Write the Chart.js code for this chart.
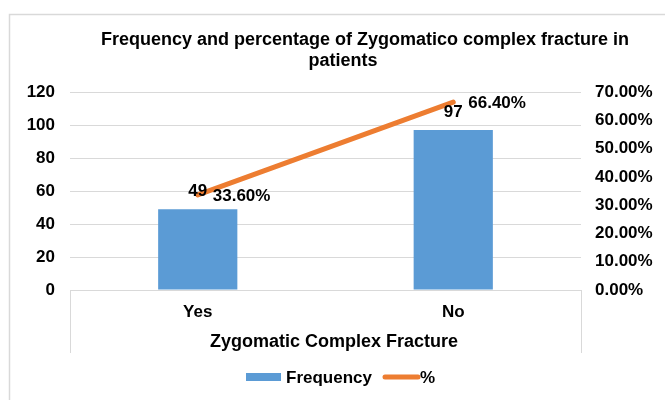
<!DOCTYPE html>
<html>
<head>
<meta charset="utf-8">
<style>
html,body{margin:0;padding:0;background:#fff;overflow:hidden}
#wrap{width:665px;height:400px;position:relative}
</style>
<script src="https://cdn.jsdelivr.net/npm/chart.js@4.4.1/dist/chart.umd.min.js"></script>
</head>
<body>
<div id="wrap"><canvas id="c" width="665" height="400"></canvas></div>
<script>
const categories = ['Yes', 'No'];
const frequency = [49, 97];
const percent = [33.6, 66.4];
const leftAxis = { min: 0, max: 120, step: 20 };
const rightAxis = { min: 0, max: 70, step: 10 };
const titleLines = ['Frequency and percentage of Zygomatico complex fracture in', 'patients'];
const xTitle = 'Zygomatic Complex Fracture';
const seriesNames = ['Frequency', '%'];

const FONT = '"Liberation Sans", Arial, sans-serif';
const BLUE = '#5B9BD5';
const ORANGE = '#ED7D31';
const GRID = '#d9d9d9';

const decor = {
  id: 'decor',
  beforeDraw(chart) {
    const ctx = chart.ctx;
    ctx.save();
    ctx.fillStyle = '#fff';
    ctx.fillRect(0, 0, chart.width, chart.height);
    ctx.strokeStyle = GRID;
    ctx.lineWidth = 1.5;
    ctx.strokeRect(9.5, 14.5, 720, 450);
    ctx.restore();
  },
  afterDatasetsDraw(chart) {
    const ctx = chart.ctx;
    ctx.save();
    ctx.fillStyle = '#000';
    ctx.font = 'bold 17px ' + FONT;
    const barMeta = chart.getDatasetMeta(0);
    ctx.textAlign = 'center';
    ctx.textBaseline = 'middle';
    barMeta.data.forEach((el, i) => {
      ctx.fillText(String(frequency[i]), el.x, el.y - 18);
    });
    const lineMeta = chart.getDatasetMeta(1);
    ctx.textAlign = 'left';
    lineMeta.data.forEach((el, i) => {
      ctx.fillText(percent[i].toFixed(2) + '%', el.x + 15, el.y + 1);
    });
    ctx.restore();
  },
  afterDraw(chart) {
    const ctx = chart.ctx;
    const a = chart.chartArea;
    ctx.save();
    // category box lines
    ctx.strokeStyle = GRID;
    ctx.lineWidth = 1;
    ctx.beginPath();
    ctx.moveTo(Math.round(a.left) + 0.5, a.bottom);
    ctx.lineTo(Math.round(a.left) + 0.5, a.bottom + 63);
    ctx.moveTo(Math.round(a.right) + 0.5, a.bottom);
    ctx.lineTo(Math.round(a.right) + 0.5, a.bottom + 63);
    ctx.stroke();
    // title
    ctx.fillStyle = '#000';
    ctx.textBaseline = 'middle';
    ctx.textAlign = 'center';
    ctx.font = 'bold 18px ' + FONT;
    ctx.fillText(titleLines[0], 365, 40);
    ctx.fillText(titleLines[1], 343, 61);
    // x axis title
    ctx.font = 'bold 18px ' + FONT;
    ctx.fillText(xTitle, 334, 342);
    // legend
    ctx.font = 'bold 17px ' + FONT;
    ctx.fillStyle = BLUE;
    ctx.fillRect(246, 373, 35, 8);
    ctx.fillStyle = '#000';
    ctx.textAlign = 'left';
    ctx.fillText(seriesNames[0], 286, 378);
    ctx.strokeStyle = ORANGE;
    ctx.lineWidth = 5;
    ctx.lineCap = 'round';
    ctx.beginPath();
    ctx.moveTo(385, 377);
    ctx.lineTo(418, 377);
    ctx.stroke();
    ctx.fillText(seriesNames[1], 420, 378);
    ctx.restore();
  }
};

new Chart(document.getElementById('c'), {
  data: {
    labels: categories,
    datasets: [
      {
        type: 'bar', label: seriesNames[0], data: frequency, yAxisID: 'y',
        backgroundColor: BLUE, barPercentage: 0.31, categoryPercentage: 1, order: 2
      },
      {
        type: 'line', label: seriesNames[1], data: percent, yAxisID: 'y1',
        borderColor: ORANGE, borderWidth: 5, pointRadius: 0, borderCapStyle: 'round',
        tension: 0, order: 1
      }
    ]
  },
  options: {
    responsive: false,
    animation: false,
    devicePixelRatio: 1,
    layout: { padding: { top: 92, left: 0, right: 0, bottom: 0 } },
    plugins: { legend: { display: false }, title: { display: false }, tooltip: { enabled: false } },
    scales: {
      x: {
        offset: true,
        grid: { display: false },
        border: { display: false },
        ticks: { color: '#000', font: { family: FONT, size: 17, weight: 'bold' }, padding: 4 },
        afterFit(s) { s.height = 110; }
      },
      y: {
        position: 'left',
        min: leftAxis.min, max: leftAxis.max,
        ticks: { stepSize: leftAxis.step, color: '#000', font: { family: FONT, size: 17, weight: 'bold' }, padding: 15 },
        grid: { color: GRID, drawTicks: false, lineWidth: 1 },
        border: { display: false },
        afterFit(s) { s.width = 70; }
      },
      y1: {
        position: 'right',
        min: rightAxis.min, max: rightAxis.max,
        ticks: { stepSize: rightAxis.step, color: '#000', font: { family: FONT, size: 17, weight: 'bold' }, padding: 14,
          callback: v => v.toFixed(2) + '%' },
        grid: { display: false, drawTicks: false },
        border: { display: false },
        afterFit(s) { s.width = 84; }
      }
    }
  },
  plugins: [decor]
});
</script>
</body>
</html>
